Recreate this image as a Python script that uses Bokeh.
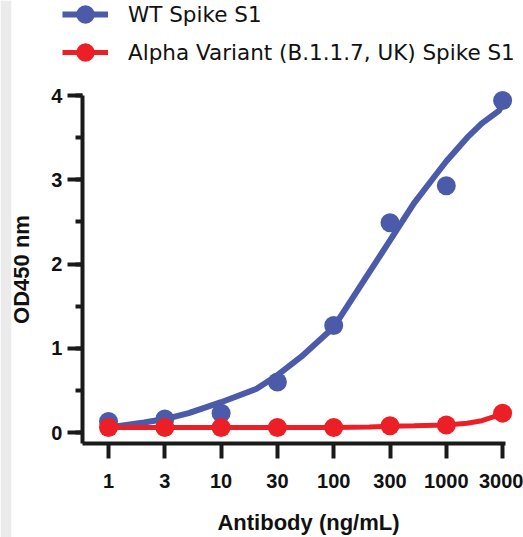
import numpy as np
from bokeh.plotting import figure
from bokeh.models import Range1d, FixedTicker, SingleIntervalTicker, Legend, LegendItem, Label
from bokeh.embed import file_html
from bokeh.resources import INLINE

# ---- data ----
concentrations = [1, 3, 10, 30, 100, 300, 1000, 3000]
tick_labels = ["1", "3", "10", "30", "100", "300", "1000", "3000"]
wt_od = [0.13, 0.16, 0.23, 0.60, 1.27, 2.49, 2.93, 3.94]
alpha_od = [0.06, 0.06, 0.06, 0.06, 0.06, 0.08, 0.09, 0.23]

wt_fit_conc = [1, 2, 3, 5, 10, 20, 30, 50, 100, 200, 300, 500, 800, 1000, 1500, 2000, 2800, 3000]
wt_fit_od = [0.06, 0.12, 0.16, 0.23, 0.36, 0.52, 0.68, 0.90, 1.25, 1.90, 2.28, 2.72, 3.06, 3.22, 3.50, 3.67, 3.82, 3.90]
alpha_fit_conc = [1, 10, 100, 200, 300, 500, 1000, 1500, 2000, 3000]
alpha_fit_od = [0.06, 0.06, 0.06, 0.065, 0.075, 0.08, 0.09, 0.11, 0.14, 0.22]

BLUE = "#4b5aa9"
RED = "#ec1f27"
INK = "#111111"
AXIS_INK = "#1a1a1a"

# dilution steps are drawn evenly spaced along the x axis
steps = np.arange(len(concentrations))
log_c = np.log10(concentrations)


def to_step(c):
    return np.interp(np.log10(c), log_c, steps)


X0, X1 = -1.723, 7.371      # visible step range
Y0, Y1 = -1.246, 5.128      # visible OD range
AXIS_X = -0.462             # y axis position (step units)
AXIS_Y = -0.1306            # x axis position (OD units)

p = figure(width=523, height=537, output_backend="svg", toolbar_location=None,
           x_range=Range1d(X0, X1), y_range=Range1d(Y0, Y1),
           min_border_left=11, min_border_right=0, min_border_top=0, min_border_bottom=0)
p.outline_line_color = None
p.grid.visible = False
p.background_fill_color = "white"
p.border_fill_color = "#ebebeb"

wt_line = p.line(to_step(wt_fit_conc), wt_fit_od, line_color=BLUE, line_width=6)
wt_pts = p.scatter(to_step(concentrations), wt_od, size=19, fill_color=BLUE, line_color=None)
al_line = p.line(to_step(alpha_fit_conc), alpha_fit_od, line_color=RED, line_width=5)
al_pts = p.scatter(to_step(concentrations), alpha_od, size=19, fill_color=RED, line_color=None)

# axes
p.xaxis.ticker = FixedTicker(ticks=list(steps))
p.xaxis.major_label_overrides = {int(i): t for i, t in zip(steps, tick_labels)}
p.xaxis.minor_tick_line_color = None
p.xaxis.bounds = (AXIS_X, 7.05)
p.xaxis.fixed_location = AXIS_Y
p.yaxis.ticker = SingleIntervalTicker(interval=1, num_minor_ticks=2)
p.yaxis.bounds = (AXIS_Y, 4.0)
p.yaxis.fixed_location = AXIS_X

for ax in (p.xaxis, p.yaxis):
    ax.axis_line_width = 4
    ax.axis_line_color = AXIS_INK
    ax.major_tick_line_width = 4
    ax.major_tick_line_color = AXIS_INK
    ax.minor_tick_line_width = 4
    ax.minor_tick_line_color = AXIS_INK
    ax.major_tick_in = 0
    ax.major_tick_out = 15
    ax.minor_tick_in = 0
    ax.minor_tick_out = 7
    ax.major_label_text_font = "Liberation Sans"
    ax.major_label_text_font_style = "bold"
    ax.major_label_text_font_size = "20px"
    ax.major_label_text_color = INK
    ax.axis_label_text_font = "Liberation Sans"
    ax.axis_label_text_font_style = "bold"
    ax.axis_label_text_font_size = "22px"
    ax.axis_label_text_color = INK

p.xaxis.major_label_standoff = 15
p.yaxis.axis_label = "OD450 nm"
p.yaxis.major_label_standoff = 5
p.yaxis.axis_label_standoff = 14

# x axis title
p.add_layout(Label(x=3.552, y=-1.068, text="Antibody (ng/mL)", text_align="center",
                   text_baseline="middle", text_font="Liberation Sans", text_font_style="bold",
                   text_font_size="22px", text_color=INK))


def make_legend(label, renderers, vy):
    lg = Legend(items=[LegendItem(label=label, renderers=renderers)],
                location=(51, vy), orientation="vertical",
                glyph_width=46, glyph_height=48, label_standoff=20, spacing=0,
                padding=0, margin=0, border_line_color=None, background_fill_alpha=0,
                label_text_font="DejaVu Sans", label_text_font_size="21.5px",
                label_text_color=INK)
    p.add_layout(lg, "center")


make_legend("WT Spike S1", [wt_line, wt_pts], 499)
make_legend("Alpha Variant (B.1.1.7, UK) Spike S1", [al_line, al_pts], 461)

open("out.html", "w").write(file_html(p, INLINE))
